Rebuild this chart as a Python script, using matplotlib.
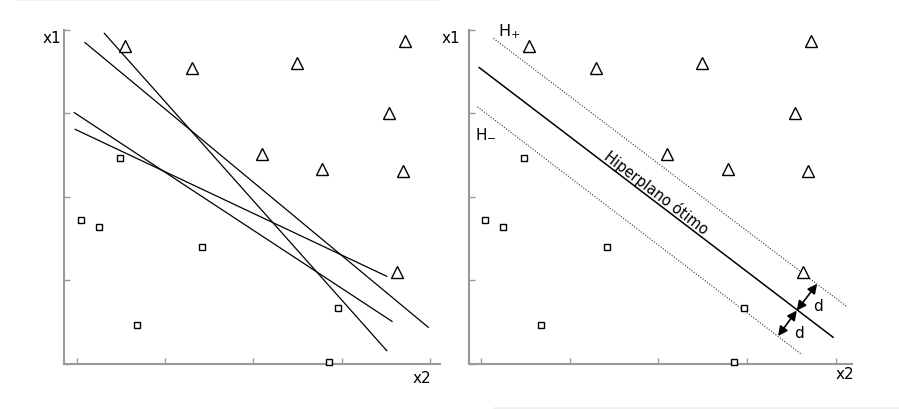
import matplotlib
matplotlib.use("Agg")
import matplotlib.pyplot as plt
from matplotlib.lines import Line2D

# ---- data ----
tri_x = [0.54, 3.72, 1.30, 2.49, 3.54, 2.10, 2.78, 3.69, 3.63]
tri_y = [3.81, 3.87, 3.55, 3.60, 3.01, 2.51, 2.33, 2.31, 1.10]
sq_x = [0.49, 0.05, 0.25, 1.42, 2.96, 0.68, 2.85]
sq_y = [2.47, 1.72, 1.64, 1.40, 0.67, 0.47, 0.02]

# candidate separating lines (left panel): (x0, y0, x1, y1)
cand_lines = [
    (0.09, 3.85, 3.98, 0.44),
    (0.31, 3.96, 3.51, 0.16),
    (-0.03, 3.01, 3.57, 0.51),
    (-0.02, 2.81, 3.51, 1.05),
]
# optimal hyperplane and margins (right panel)
hyper = (-0.02, 3.55, 3.97, 0.32)
h_plus = (0.14, 3.90, 4.12, 0.69)
h_minus = (-0.04, 3.08, 3.62, 0.11)
# margin arrows
arrow_mid = (3.56, 0.64)
arrow_up = (3.79, 0.96)
arrow_low = (3.35, 0.335)

xticks = [0, 1, 2, 3, 4]
yticks = [0, 1, 2, 3, 4]

AX_COLOR = "#999999"

fig = plt.figure(figsize=(8.99, 4.10), dpi=100)
axL = fig.add_axes([0.0712, 0.1098, 0.4182, 0.8146])
axR = fig.add_axes([0.5217, 0.1098, 0.4257, 0.8146])


def style(ax, xlim):
    ax.set_xlim(*xlim)
    ax.set_ylim(0, 4.0)
    for s in ("top", "right"):
        ax.spines[s].set_visible(False)
    for s in ("left", "bottom"):
        ax.spines[s].set_color(AX_COLOR)
        ax.spines[s].set_linewidth(1.5)
    ax.set_xticks(xticks)
    ax.set_yticks(yticks)
    ax.tick_params(direction="in", length=4, width=1, color=AX_COLOR,
                   labelbottom=False, labelleft=False)
    ax.plot(tri_x, tri_y, linestyle="none", marker="^", markersize=8,
            markerfacecolor="white", markeredgecolor="black",
            markeredgewidth=1.0, clip_on=False, zorder=5)
    ax.plot(sq_x, sq_y, linestyle="none", marker="s", markersize=5,
            markerfacecolor="white", markeredgecolor="black",
            markeredgewidth=1.0, clip_on=False, zorder=5)


style(axL, (-0.147, 4.113))
style(axR, (-0.135, 4.18))

for (x0, y0, x1, y1) in cand_lines:
    axL.plot([x0, x1], [y0, y1], color="black", lw=0.9, clip_on=False)

axR.plot([hyper[0], hyper[2]], [hyper[1], hyper[3]], color="black", lw=1.1,
         clip_on=False)
for ln in (h_plus, h_minus):
    axR.plot([ln[0], ln[2]], [ln[1], ln[3]], color="#333333", lw=0.8,
             linestyle=(0, (1, 1.5)), clip_on=False)

axR.text(1.98, 2.056, "Hiperplano ótimo", rotation=-37.3,
         rotation_mode="anchor", ha="center", va="center", fontsize=10.5)

for end in (arrow_up, arrow_low):
    axR.annotate("", xy=end, xytext=arrow_mid,
                 arrowprops=dict(arrowstyle="<|-|>", color="black", lw=1.2,
                                 mutation_scale=14, shrinkA=0, shrinkB=0))
axR.text(3.80, 0.70, "d", fontsize=11, ha="center", va="center")
axR.text(3.59, 0.38, "d", fontsize=11, ha="center", va="center")

axR.text(0.32, 3.99, "H$_{+}$", fontsize=11.5, ha="center", va="center")
axR.text(0.05, 2.77, "H$_{-}$", fontsize=11, ha="center", va="center")

# axis labels
fig.text(51.7 / 899, 1 - 38.3 / 410, "x1", fontsize=11, ha="center", va="center")
fig.text(421.7 / 899, 1 - 378.3 / 410, "x2", fontsize=11, ha="center", va="center")
fig.text(451 / 899, 1 - 38.3 / 410, "x1", fontsize=11, ha="center", va="center")
fig.text(845 / 899, 1 - 375 / 410, "x2", fontsize=11, ha="center", va="center")

# faint border lines from the original picture
fig.add_artist(Line2D([16 / 899, 440 / 899], [1 - 0.5 / 410, 1 - 0.5 / 410],
                      color="#eeeeee", lw=1.2, transform=fig.transFigure))
fig.add_artist(Line2D([494 / 899, 1.0], [1 - 409 / 410, 1 - 409 / 410],
                      color="#eeeeee", lw=1.2, transform=fig.transFigure))

fig.savefig("out.png", dpi=100)
